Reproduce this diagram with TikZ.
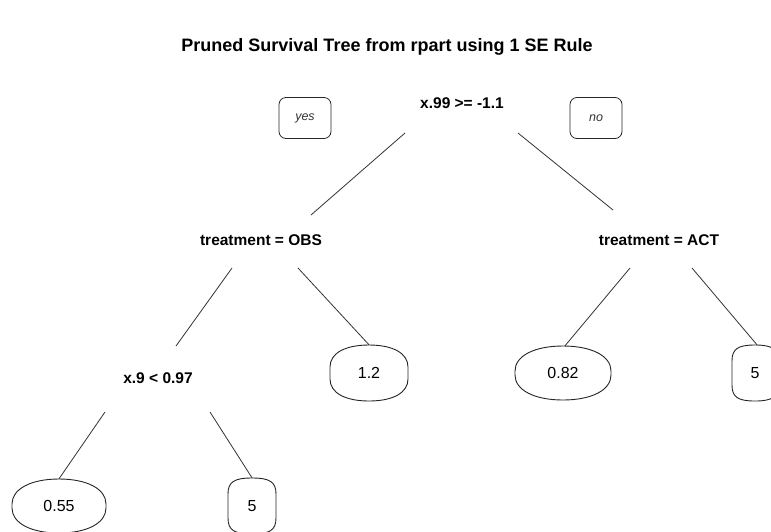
\documentclass[tikz,border=0pt]{standalone}
\usepackage{fontspec}
\setmainfont{Liberation Sans}
\tikzset{
  split/.style={font=\fontsize{15.5}{17}\selectfont\bfseries, inner sep=0pt},
  leaf/.style={font=\fontsize{16}{18}\selectfont, inner sep=0pt, draw=none},
  yesno/.style={draw, rounded corners=7pt, minimum width=52pt, minimum height=41pt, inner sep=0pt, line width=0.8pt, black!85, text=black!80, font=\fontsize{12.5}{14}\selectfont\itshape},
  edge/.style={line width=0.8pt, black!80},
  outline/.style={line width=0.9pt, black!85},
}
% name, cx, cy, a (half width), b (half height), s (straight half side), k (corner factor), text
\newcommand\leafnode[8]{%
  \node[leaf, minimum width={2*#4}, minimum height={2*#5}] (#1) at (#2,#3) {#8};
  \draw[outline] ({#2-#4},{#3-#6}) -- ({#2-#4},{#3+#6})
    .. controls ({#2-#4},{#3+#6+(#5-#6)*#7}) and ({#2-#4*#7},{#3+#5}) .. ({#2},{#3+#5})
    .. controls ({#2+#4*#7},{#3+#5}) and ({#2+#4},{#3+#6+(#5-#6)*#7}) .. ({#2+#4},{#3+#6})
    -- ({#2+#4},{#3-#6})
    .. controls ({#2+#4},{#3-#6-(#5-#6)*#7}) and ({#2+#4*#7},{#3-#5}) .. ({#2},{#3-#5})
    .. controls ({#2-#4*#7},{#3-#5}) and ({#2-#4},{#3-#6-(#5-#6)*#7}) .. cycle;
}
\begin{document}
\begin{tikzpicture}[x=1pt, y=-1pt]
\useasboundingbox (0,0) rectangle (771,531);
\clip (0,0) rectangle (771,531);
\fill[white] (0,0) rectangle (771,531);

\node[font=\fontsize{18}{20}\selectfont\bfseries, inner sep=0pt] (title) at (387,47) {Pruned Survival Tree from rpart using 1 SE Rule};

\node[split] (root) at (462,103) {x.99 >= -1.1};
\node[yesno] (yes) at (305,118) {yes};
\node[yesno] (no) at (596,118) {no};

\node[split] (obs) at (261,240) {treatment = OBS};
\node[split] (act) at (659,240) {treatment = ACT};
\node[split] (x9) at (158,378) {x.9 < 0.97};

\leafnode{l12}{369}{373}{39}{28}{6}{0.62}{1.2}
\leafnode{l082}{563}{373}{48}{27}{2}{0.6}{0.82}
\leafnode{l5r}{755}{373}{23}{28}{12}{0.75}{5}
\leafnode{l055}{59}{506}{47}{27}{2}{0.6}{0.55}
\leafnode{l5b}{252}{506}{24}{28}{12}{0.75}{5}

\draw[edge] ([shift={(-57,30)}]root.center) -- ([shift={(50,-25)}]obs.center);
\draw[edge] ([shift={(56,30)}]root.center) -- ([shift={(-46,-30)}]act.center);
\draw[edge] ([shift={(-29,28)}]obs.center) -- ([shift={(18,-32)}]x9.center);
\draw[edge] ([shift={(37,28)}]obs.center) -- (l12.north);
\draw[edge] ([shift={(-29,28)}]act.center) -- ([xshift=2pt]l082.north);
\draw[edge] ([shift={(33,28)}]act.center) -- ([xshift=2pt]l5r.north);
\draw[edge] ([shift={(-53,34)}]x9.center) -- (l055.north);
\draw[edge] ([shift={(52,34)}]x9.center) -- (l5b.north);
\end{tikzpicture}
\end{document}
